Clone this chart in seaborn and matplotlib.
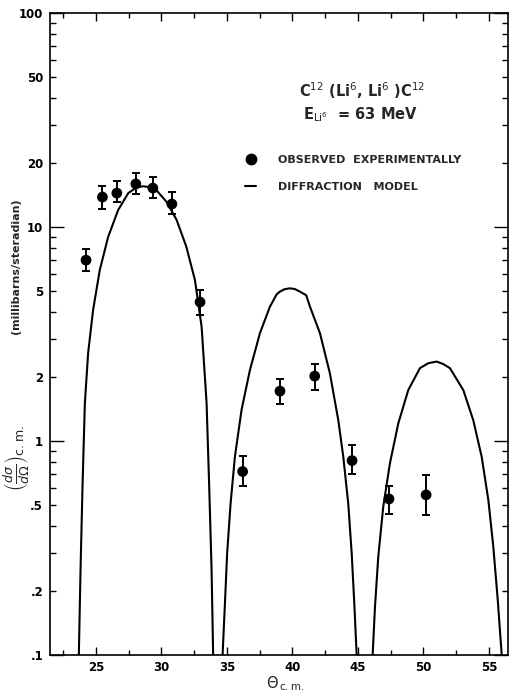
import numpy as np
import pandas as pd
import matplotlib
matplotlib.use("Agg")
import matplotlib.pyplot as plt
import seaborn as sns
from matplotlib.ticker import FixedLocator, FuncFormatter
from matplotlib.lines import Line2D

# Measured C12(Li6,Li6)C12 elastic cross sections (mb/sr) with error limits
theta_obs = [24.25, 25.5, 26.6, 28.05, 29.35, 30.8, 32.95, 36.2, 39.05, 41.7, 44.55, 47.37, 50.2]
sigma_obs = [7.0, 13.8, 14.4, 15.9, 15.2, 12.8, 4.46, 0.72, 1.71, 2.01, 0.81, 0.536, 0.56]
sigma_hi = [7.9, 15.6, 16.4, 17.9, 17.1, 14.6, 5.1, 0.85, 1.95, 2.29, 0.96, 0.616, 0.69]
sigma_lo = [6.25, 12.1, 13.1, 14.3, 13.7, 11.5, 3.88, 0.616, 1.49, 1.73, 0.70, 0.456, 0.45]

# Diffraction-model curve, one lobe per maximum
lobe1_theta = [23.70, 23.83, 23.98, 24.16, 24.41, 24.79, 25.3, 25.94, 26.7, 27.47,
               28.1, 28.61, 28.99, 29.6, 30.4, 31.16, 31.9, 32.56, 33.07, 33.45,
               33.65, 33.83, 33.95]
lobe1_sigma = [0.1, 0.25, 0.61, 1.50, 2.58, 4.1, 6.3, 9.0, 12.0, 14.4,
               15.3, 15.5, 15.4, 14.9, 13.1, 10.8, 8.1, 5.65, 3.42, 1.50,
               0.61, 0.25, 0.1]
lobe2_theta = [34.67, 34.85, 35.02, 35.28, 35.61, 36.12, 36.76, 37.52, 38.28, 38.8,
               39.05, 39.4, 39.8, 40.18, 40.57, 41.05, 41.34, 42.1, 42.86, 43.5,
               43.88, 44.26, 44.52, 44.72, 44.9]
lobe2_sigma = [0.1, 0.175, 0.30, 0.51, 0.845, 1.40, 2.15, 3.19, 4.24, 4.85,
               4.99, 5.12, 5.17, 5.13, 4.99, 4.8, 4.24, 3.19, 2.07, 1.25,
               0.845, 0.51, 0.30, 0.175, 0.1]
lobe3_theta = [46.12, 46.3, 46.55, 46.93, 47.44, 48.08, 48.84, 49.73, 50.37, 51.0,
               51.5, 52.02, 53.04, 53.8, 54.44, 54.95, 55.33, 55.67, 55.97]
lobe3_sigma = [0.1, 0.168, 0.288, 0.493, 0.787, 1.21, 1.73, 2.19, 2.31, 2.35,
               2.29, 2.19, 1.73, 1.25, 0.845, 0.53, 0.32, 0.18, 0.1]

x_major = [25, 30, 35, 40, 45, 50, 55]
x_minor = [22.5, 27.5, 32.5, 37.5, 42.5, 47.5, 52.5]
y_major = [0.1, 1, 10, 100]
y_labels = {0.1: ".1", 0.2: ".2", 0.5: ".5", 1: "1", 2: "2", 5: "5",
            10: "10", 20: "20", 50: "50", 100: "100"}

model = pd.concat([
    pd.DataFrame({"theta": t, "sigma": s, "lobe": i})
    for i, (t, s) in enumerate([(lobe1_theta, lobe1_sigma),
                                (lobe2_theta, lobe2_sigma),
                                (lobe3_theta, lobe3_sigma)])
], ignore_index=True)
obs = pd.DataFrame({"theta": theta_obs, "sigma": sigma_obs,
                    "lo": sigma_lo, "hi": sigma_hi})

sns.set_theme(style="ticks")
plt.rcParams["font.family"] = ["DejaVu Sans"]
plt.rcParams["mathtext.fontset"] = "dejavusans"

W, H = 509, 694
fig = plt.figure(figsize=(W / 100, H / 100), dpi=100)
ax = fig.add_axes([50 / W, (H - 655) / H, (508 - 50) / W, (655 - 13) / H])

sns.lineplot(data=model, x="theta", y="sigma", units="lobe", estimator=None,
             sort=False, color="black", lw=1.5, ax=ax, legend=False)
ax.errorbar(obs["theta"], obs["sigma"],
            yerr=[obs["sigma"] - obs["lo"], obs["hi"] - obs["sigma"]],
            fmt="none", ecolor="black", elinewidth=1.4, capsize=3, capthick=1.4)
sns.scatterplot(data=obs, x="theta", y="sigma", color="black", s=60,
                edgecolor="none", ax=ax, zorder=3, legend=False)

ax.set_yscale("log")
ax.set_xlim(21.5, 56.45)
ax.set_ylim(0.1, 100)

# Ticks point inward on all four sides
ax.xaxis.set_major_locator(FixedLocator(x_major))
ax.xaxis.set_minor_locator(FixedLocator(x_minor))
y_minor = [m * d for d in (0.1, 1, 10) for m in range(2, 10)]
ax.yaxis.set_major_locator(FixedLocator(y_major))
ax.yaxis.set_minor_locator(FixedLocator(y_minor))
fmt = FuncFormatter(lambda v, p: next((lab for k, lab in y_labels.items()
                                        if abs(v - k) < 1e-9 * max(k, 1)), ""))
ax.yaxis.set_major_formatter(fmt)
ax.yaxis.set_minor_formatter(fmt)
ax.tick_params(axis="both", which="both", direction="in", top=True, right=True,
               colors="black", width=1.0)
ax.tick_params(axis="x", which="major", length=6, pad=4)
ax.tick_params(axis="x", which="minor", length=3.5)
ax.tick_params(axis="y", which="major", length=10, pad=5)
ax.tick_params(axis="y", which="minor", length=4.5, pad=5)
for lab in ax.get_xticklabels() + ax.get_yticklabels() + ax.get_yticklabels(minor=True):
    lab.set_fontsize(8.5)
    lab.set_fontweight("bold")
for sp in ax.spines.values():
    sp.set_linewidth(1.2)
    sp.set_color("black")

ax.set_xlabel("")
ax.set_ylabel("")
fig.text(285 / W, 1 - 684 / H, r"$\Theta_{\,\mathrm{c.m.}}$", ha="center", va="center",
         fontsize=10.5, fontweight="bold")
fig.text(17 / W, 1 - 458 / H, r"$\left(\frac{d\sigma}{d\Omega}\right)_{\mathrm{c.m.}}$",
         rotation=90, ha="center", va="center", fontsize=13)
fig.text(16 / W, 1 - 266 / H, "(millibarns/steradian)", rotation=90,
         ha="center", va="center", fontsize=8, fontweight="bold")

fig.text(362 / W, 1 - 91 / H, r"C$^{12}$ (Li$^{6}$, Li$^{6}$ )C$^{12}$",
         ha="center", va="center", fontsize=10.5, fontweight="bold")
fig.text(360 / W, 1 - 115 / H, r"E$_{\mathrm{Li}^{6}}$  = 63 MeV",
         ha="center", va="center", fontsize=10.5, fontweight="bold")

handles = [Line2D([], [], marker="o", ls="none", color="black", markersize=7.5),
           Line2D([], [], color="black", lw=1.5)]
leg = fig.legend(handles, ["OBSERVED  EXPERIMENTALLY", "DIFFRACTION   MODEL"],
                 loc="upper left", bbox_to_anchor=(245 / W, 1 - 155 / H),
                 frameon=False, handlelength=1.0, handletextpad=2.0,
                 labelspacing=1.55, borderpad=0, borderaxespad=0,
                 prop={"size": 8, "weight": "bold"})

fig.savefig("out.png", dpi=100, facecolor="white")
